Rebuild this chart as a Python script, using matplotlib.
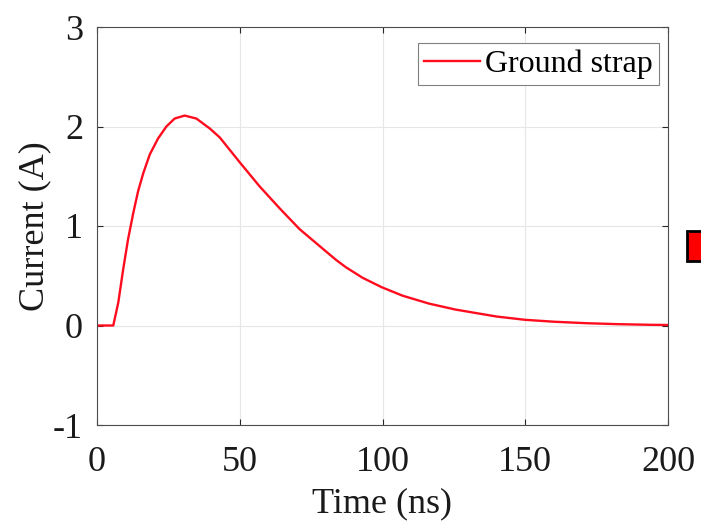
import matplotlib
matplotlib.use("Agg")
import matplotlib.pyplot as plt
from matplotlib.patches import Rectangle

# current through the ground strap
time_ns = [0, 5.7, 7.45, 9.2, 10.9, 12.7, 14.4, 16.2, 18.5, 21.4, 24.3, 27.2,
           30.7, 34.8, 39.5, 43.0, 50.0, 56.9, 63.9, 70.9, 77.9, 83.7, 87.2,
           93.0, 99.7, 107.0, 116.3, 125.6, 133.8, 140, 150, 160, 171.5, 183,
           194, 200]
current_a = [0, 0, 0.23, 0.57, 0.87, 1.13, 1.35, 1.53, 1.72, 1.88, 2.00, 2.08,
             2.11, 2.08, 1.98, 1.89, 1.64, 1.40, 1.18, 0.97, 0.80, 0.66, 0.585,
             0.48, 0.385, 0.30, 0.22, 0.16, 0.12, 0.09, 0.057, 0.038, 0.023,
             0.013, 0.007, 0.005]

x_ticks = [0, 50, 100, 150, 200]
y_ticks = [-1, 0, 1, 2, 3]
y_tick_labels = ['-1', '0', '1', '2', '3']

plt.rcParams['font.family'] = ['Liberation Serif', 'DejaVu Serif']

fig = plt.figure(figsize=(7.01, 5.22), dpi=100)
ax = fig.add_axes([97 / 701, 1 - 425 / 522, (668 - 97) / 701, (425 - 27) / 522])

ax.plot(time_ns, current_a, color='#ff0d1f', linewidth=1.7, label='Ground strap')

ax.set_xlim(0, 200)
ax.set_ylim(-1, 3)
ax.set_xticks(x_ticks)
ax.set_yticks(y_ticks)
ax.set_yticklabels(y_tick_labels)
ax.grid(True, color='#e6e6e6', linewidth=0.8)
ax.set_axisbelow(True)
ax.tick_params(direction='in', length=4, width=0.8, colors='#262626',
               labelsize=26, top=True, right=True, labelcolor='#1a1a1a')
ax.tick_params(axis='x', pad=15)
ax.tick_params(axis='y', pad=10)
for s in ax.spines.values():
    s.set_color('#4d4d4d')
    s.set_linewidth(0.8)

ax.set_xlabel('Time (ns)', fontsize=26, color='#1a1a1a', labelpad=6)
ax.set_ylabel('Current (A)', fontsize=26, color='#1a1a1a', labelpad=1)

leg = ax.legend(loc='upper right', bbox_to_anchor=(0.984, 0.96), fontsize=23,
                fancybox=False, framealpha=1, edgecolor='#808080',
                handlelength=1.75, handletextpad=0.15, borderpad=0.2,
                borderaxespad=0)
leg.get_frame().set_linewidth(0.8)

# red box cut off at the right edge
fig.patches.append(Rectangle((687 / 701, 1 - 261 / 522), 20 / 701, 30 / 522,
                             transform=fig.transFigure, facecolor='red',
                             edgecolor='black', linewidth=2, clip_on=False))

fig.savefig('out.png', dpi=100)
